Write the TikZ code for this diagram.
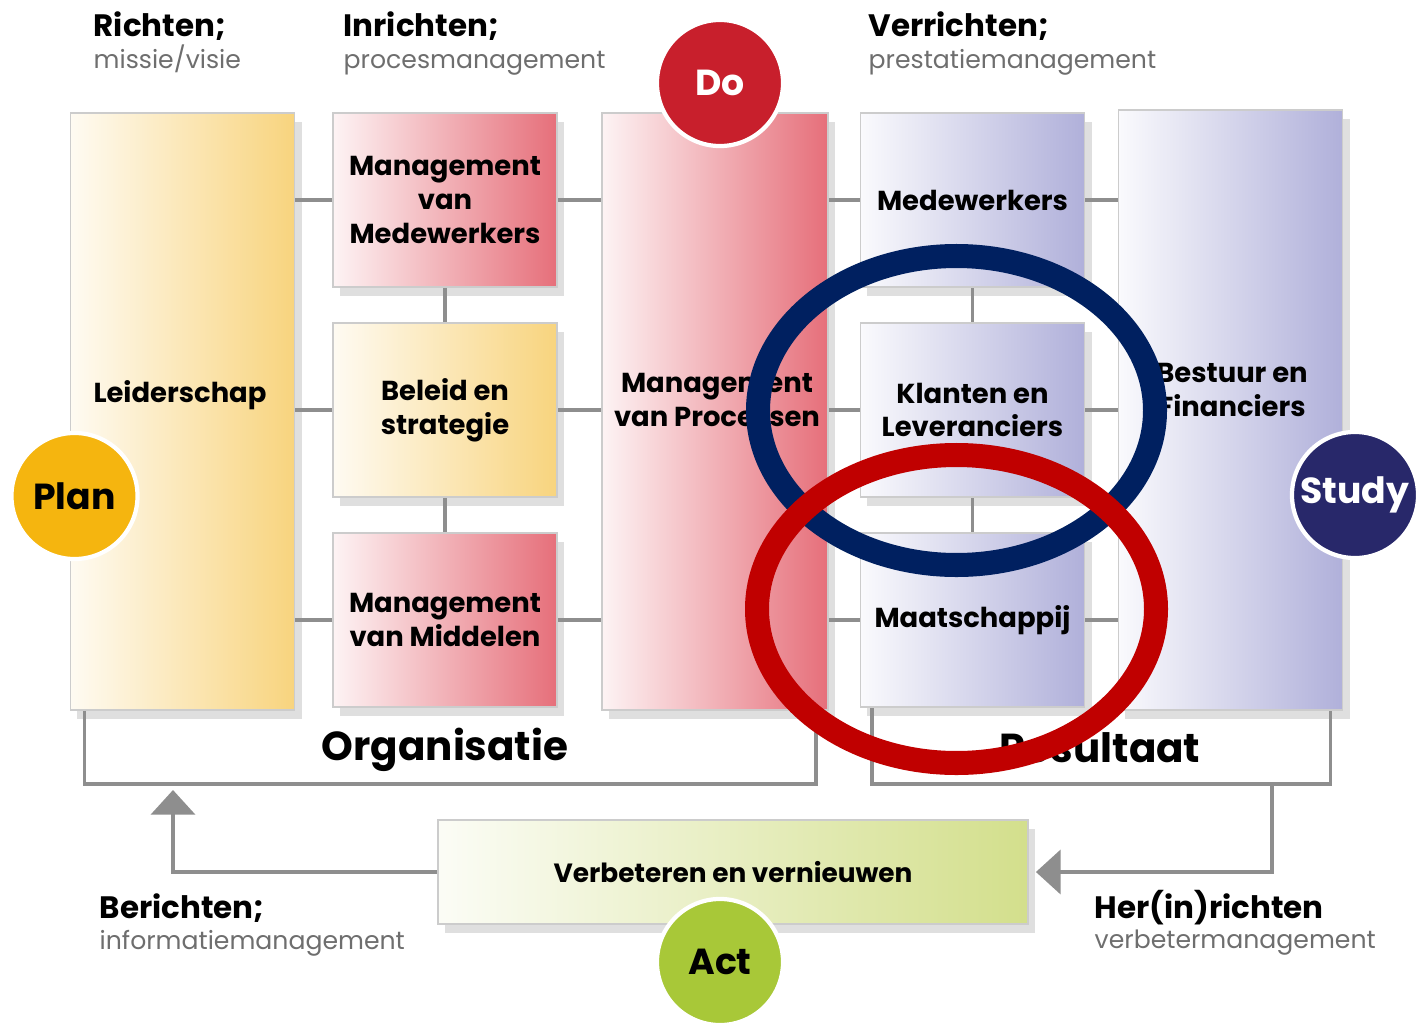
\documentclass[tikz,border=0pt]{standalone}
\usepackage{fontspec}
\setmainfont{Poppins}
\usetikzlibrary{calc,shadows,arrows.meta}

\definecolor{leidgeel}{HTML}{F8D47E}
\definecolor{mgtrood}{HTML}{E66F7A}
\definecolor{resblauw}{HTML}{B0B0DA}
\definecolor{verbgroen}{HTML}{D3DF8C}
\definecolor{plangeel}{HTML}{F5B50F}
\definecolor{dorood}{HTML}{C81F2C}
\definecolor{studyblauw}{HTML}{28286A}
\definecolor{actgroen}{HTML}{A8C838}
\definecolor{lijngrijs}{HTML}{8E8E8E}
\definecolor{subgrijs}{HTML}{6E6E6E}
\definecolor{ovaalblauw}{HTML}{002060}
\definecolor{ovaalrood}{HTML}{C00000}

\begin{document}
\begin{tikzpicture}[x=0.01cm, y=-0.01cm,
	blok/.style={draw=black!20, line width=0.4pt, inner sep=0pt, align=center,
		minimum width=2.24cm, minimum height=1.74cm,
		font=\bfseries\fontsize{7.8}{9.6}\selectfont,
		drop shadow={opacity=0.25, shadow xshift=2pt, shadow yshift=-2.5pt}},
	hoog/.style={blok, minimum height=5.97cm},
	geel/.style={left color=leidgeel!10, right color=leidgeel},
	rood/.style={left color=mgtrood!8, right color=mgtrood},
	paars/.style={left color=resblauw!6, right color=resblauw},
	lbl/.style={align=center, inner sep=0pt, font=\bfseries\fontsize{7.8}{9.6}\selectfont},
	lijn/.style={draw=lijngrijs, line width=1pt},
	pijl/.style={lijn, -{Triangle[width=12.5pt, length=7pt]}},
	pdca/.style={circle, draw=white, line width=1.2pt, minimum size=1.26cm, inner sep=0pt,
		font=\bfseries\fontsize{10.3}{12}\selectfont},
	kop/.style={anchor=base west, inner sep=0pt, font=\bfseries\fontsize{8.8}{11}\selectfont},
	sub/.style={anchor=base west, inner sep=0pt, text=subgrijs, font=\fontsize{7.15}{9}\selectfont},
	ovaal/.style={line width=0.24cm}]
			%%%%% START %%%%%
			\useasboundingbox (0,0) rectangle (1418,1024);
			
			% organisatie
			\node[hoog, geel] (leid) at (182.5,411.5) {};
			\node[lbl] (leidtxt) at (180,395) {Leiderschap};
			\node[blok, rood] (mvm) at (445,200) {Management\\van\\Medewerkers};
			\node[blok, geel] (bel) at (445,410) {Beleid en\\strategie};
			\node[blok, rood] (mid) at (445,620) {Management\\van Middelen};
			\node[hoog, rood, minimum width=2.26cm] (proc) at (715,411.5) {};
			\node[lbl] (proctxt) at (717,400) {Management\\van Processen};
			
			% resultaat
			\node[blok, paars] (mdw) at (972.5,200) {Medewerkers};
			\node[blok, paars] (klant) at (972.5,410) {Klanten en\\Leveranciers};
			\node[blok, paars] (maat) at (972.5,620) {Maatschappij};
			\node[hoog, paars, minimum height=6cm] (best) at (1230.5,410) {};
			\node[lbl] (besttxt) at (1232,390) {Bestuur en\\Financiers};
			
			% verbindingen
			\draw[lijn] (leid.east |- mvm.west) -- (mvm.west);
			\draw[lijn] (leid.east |- bel.west) -- (bel.west);
			\draw[lijn] (leid.east |- mid.west) -- (mid.west);
			\draw[lijn] (mvm.east) -- (proc.west |- mvm.east);
			\draw[lijn] (bel.east) -- (proc.west |- bel.east);
			\draw[lijn] (mid.east) -- (proc.west |- mid.east);
			\draw[lijn] (mvm.south) -- (bel.north);
			\draw[lijn] (bel.south) -- (mid.north);
			
			\draw[lijn] (proc.east |- mdw.west) -- (mdw.west);
			\draw[lijn] (proc.east |- klant.west) -- (klant.west);
			\draw[lijn] (proc.east |- maat.west) -- (maat.west);
			\draw[lijn] (mdw.east) -- (best.west |- mdw.east);
			\draw[lijn] (klant.east) -- (best.west |- klant.east);
			\draw[lijn] (maat.east) -- (best.west |- maat.east);
			\draw[lijn] (mdw.south) -- (klant.north);
			\draw[lijn] (klant.south) -- (maat.north);
			
			% haken
			\draw[lijn] ($(leid.south west)+(15,0)$) -- ++(0,73) -| ($(proc.south east)+(-13,0)$);
			\node[font=\bfseries\fontsize{11.5}{14}\selectfont, inner sep=0pt] (org) at (445,750) {Organisatie};
			\draw[lijn] ($(maat.south west)+(12,0)$) -- ++(0,76) -| ($(best.south east)+(-13,0)$);
			\node[font=\bfseries\fontsize{11.5}{14}\selectfont, inner sep=0pt] (res) at (1100,748) {Resultaat};
			
			% verbeteren
			\node[blok, left color=verbgroen!8, right color=verbgroen, minimum width=5.9cm, minimum height=1.04cm,
				font=\bfseries\fontsize{7.5}{9}\selectfont] (verb) at (733,872) {Verbeteren en vernieuwen};
			\coordinate (orgvoet) at (173,790);
			\coordinate (resvoet) at (1272,783);
			\draw[pijl] (verb.west) -| (orgvoet);
			\draw[pijl, shorten >=2pt] (resvoet) |- (verb.east);
			
			% koppen
			\node[kop] (richt) at (93,37) {Richten;};
			\node[sub] (richtsub) at (93,68) {missie/visie};
			\node[kop] (inricht) at (343,37) {Inrichten;};
			\node[sub] (inrichtsub) at (343,68) {procesmanagement};
			\node[kop] (verricht) at (868,37) {Verrichten;};
			\node[sub] (verrichtsub) at (868,68) {prestatiemanagement};
			\node[kop] (bericht) at (99,918) {Berichten;};
			\node[sub] (berichtsub) at (99,949) {informatiemanagement};
			\node[kop] (herricht) at (1094,918) {Her(in)richten};
			\node[sub] (herrichtsub) at (1094,948) {verbetermanagement};
			
			% pdca
			\node[pdca, fill=dorood, text=white] (do) at (720,83) {Do};
			\node[pdca, fill=plangeel] (plan) at (74.5,496) {Plan};
			\node[pdca, fill=studyblauw, text=white] (study) at (1355,495) {Study};
			\node[pdca, fill=actgroen] (act) at (720,962) {Act};
			
			% ovalen
			\draw[ovaal, ovaalblauw] (956.5,410.5) ellipse [x radius=198.5, y radius=154.5];
			\draw[ovaal, ovaalrood] (956.5,609) ellipse [x radius=199.5, y radius=154];
			
			%%%%% END %%%%%
		\end{tikzpicture}
\end{document}
